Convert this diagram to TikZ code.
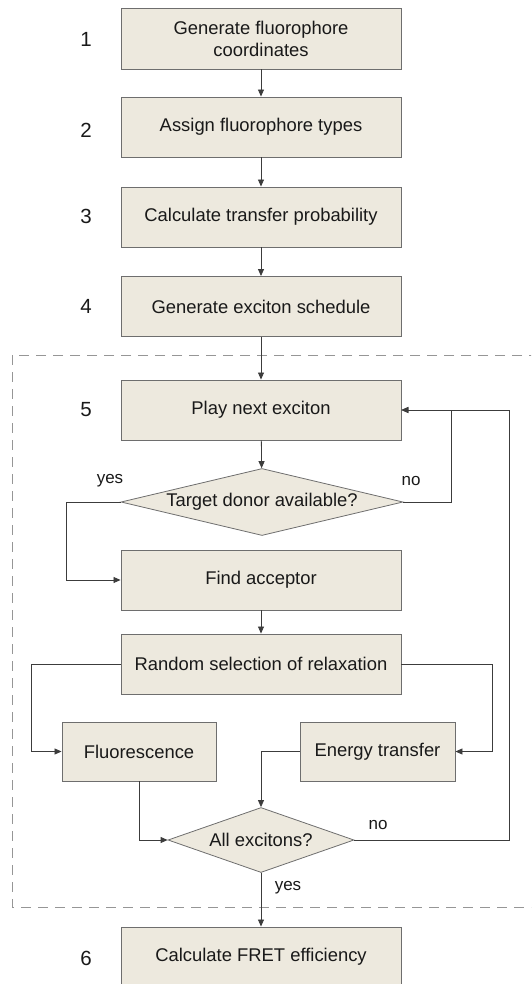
\documentclass[tikz,border=0pt]{standalone}
\usepackage{fontspec}
\setmainfont{Liberation Sans}
\usetikzlibrary{shapes.geometric,arrows.meta}
\definecolor{boxfill}{RGB}{237,233,222}
\definecolor{boxline}{RGB}{110,110,110}
\definecolor{conline}{RGB}{60,60,60}
\definecolor{dashline}{RGB}{150,150,150}
\definecolor{txt}{RGB}{25,25,25}
\begin{document}
\begin{tikzpicture}[x=1pt,y=-1pt,
  every node/.style={text=txt},
  proc/.style={draw=boxline, line width=0.9pt, fill=boxfill, rectangle, inner sep=0pt,
    minimum width=280pt, minimum height=60pt, align=center,
    font=\fontsize{18.4}{22}\selectfont},
  smallproc/.style={proc, minimum width=154pt},
  decide/.style={draw=boxline, line width=0.8pt, fill=boxfill, diamond, inner sep=0pt,
    font=\fontsize{18.4}{22}\selectfont},
  steplabel/.style={font=\fontsize{20.5}{24}\selectfont},
  answer/.style={font=\fontsize{17}{20}\selectfont},
  arr/.style={draw=conline, line width=0.8pt, -{Triangle[length=7pt,width=6pt]}},
  conn/.style={draw=conline, line width=0.8pt}
]
\useasboundingbox (0,0) rectangle (531,984);
\clip (0,0) rectangle (531,984);

% dashed group
\draw[dashline, line width=1pt, dash pattern=on 10pt off 7pt] (12,355) rectangle (565,907);

% boxes
\node[proc, minimum height=61pt] (b1) at (261,38.5) {Generate fluorophore\\coordinates};
\node[proc] (b2) at (261,127) {Assign fluorophore types};
\node[proc] (b3) at (261,217) {Calculate transfer probability};
\node[proc] (b4) at (261,306.5) {Generate exciton schedule};
\node[proc] (b5) at (261,410) {Play next exciton};
\node[decide, aspect=4.2, minimum width=282pt, minimum height=67pt] (d1) at (262,502) {Target donor available?};
\node[proc] (b6) at (261,580) {Find acceptor};
\node[proc] (b7) at (261,664) {Random selection of relaxation};
\node[smallproc, minimum height=59pt] (fl) at (139,751.5) {Fluorescence};
\node[smallproc, minimum width=155pt, minimum height=59pt] (et) at (377.5,751.5) {Energy transfer};
\node[decide, aspect=2.86, minimum width=186pt, minimum height=65pt] (d2) at (261,840) {All excitons?};
\node[proc] (b8) at (261,957) {Calculate FRET efficiency};

% step numbers
\node[steplabel] (n1) at (86,39) {1};
\node[steplabel] (n2) at (86,130) {2};
\node[steplabel] (n3) at (86,216) {3};
\node[steplabel] (n4) at (86,306) {4};
\node[steplabel] (n5) at (86,410) {5};
\node[steplabel] (n6) at (86,958) {6};

% answers
\node[answer] (y1) at (110,481) {yes};
\node[answer] (o1) at (411,481) {no};
\node[answer] (o2) at (378,825) {no};
\node[answer] (y2) at (288,888) {yes};

% connectors
\draw[arr] (b1) -- (b2);
\draw[arr] (b2) -- (b3);
\draw[arr] (b3) -- (b4);
\draw[arr] (b4) -- (b5);
\draw[arr] (b5) -- (d1);
\coordinate (yl) at (66,502);
\draw[arr] (d1.west) -- (yl) |- (b6.west);
\coordinate (nl) at (451,502);
\draw[arr] (d1.east) -- (nl) |- (b5.east);
\draw[arr] (b6) -- (b7);
\coordinate (rl) at (31,664);
\draw[arr] (b7.west) -- (rl) |- (fl.west);
\coordinate (rr) at (492,664);
\draw[arr] (b7.east) -- (rr) |- (et.east);
\draw[arr] (et.west) -| (d2.north);
\draw[arr] (fl.south) |- (d2.west);
\coordinate (far) at (509,840);
\draw[arr] (d2.east) -- (far) |- (b5.east);
\draw[arr] (d2.south) -- (b8.north);
\end{tikzpicture}
\end{document}
